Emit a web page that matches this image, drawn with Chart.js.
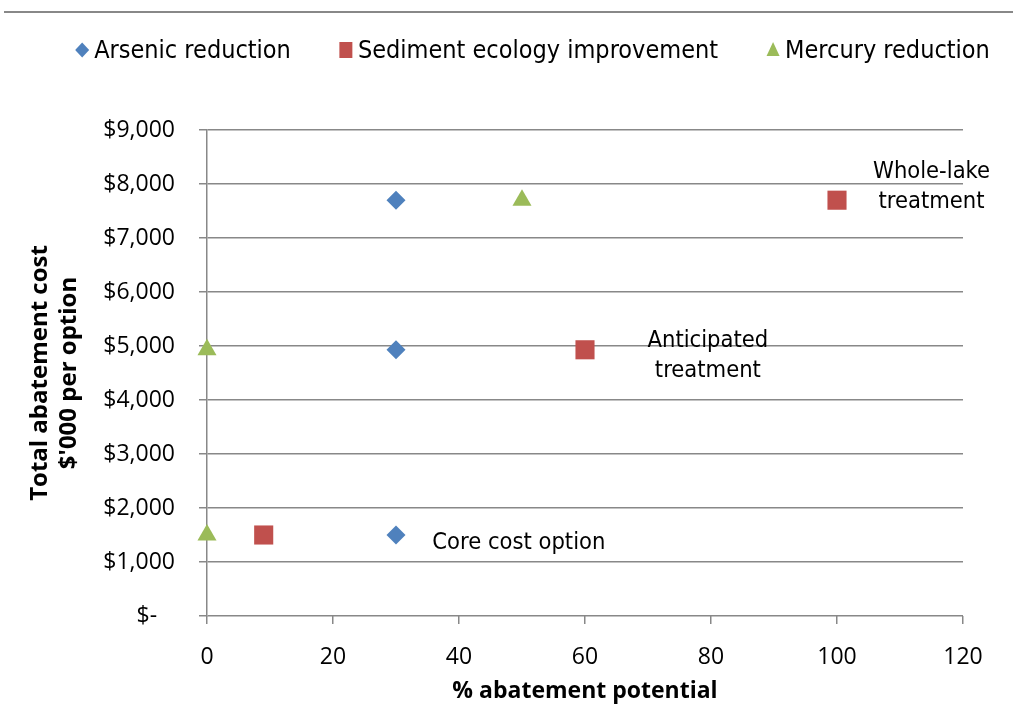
<!DOCTYPE html>
<html>
<head>
<meta charset="utf-8">
<script src="https://cdn.jsdelivr.net/npm/chart.js@4/dist/chart.umd.min.js"></script>
<style>
  html, body { margin: 0; padding: 0; background: #fff; }
  #wrap { position: relative; width: 1015px; height: 706px; }
  #topline { position: absolute; left: 4px; top: 11px; width: 1009px; height: 2px; background: #888; }
</style>
</head>
<body>
<div id="wrap">
  <div id="topline"></div>
  <canvas id="chart" width="1015" height="706"></canvas>
</div>
<script>
// series values (% abatement potential, $'000 cost)
const arsenicX = [30, 30, 30];
const arsenicY = [7700, 4930, 1500];
const sedimentX = [9, 60, 100];
const sedimentY = [1500, 4930, 7700];
const mercuryX = [0, 0, 50];
const mercuryY = [1500, 4930, 7700];

const seriesNames = ['Arsenic reduction', 'Sediment ecology improvement', 'Mercury reduction'];

// point labels, anchored in data units
const noteText = [['Whole-lake', 'treatment'], ['Anticipated', 'treatment'], ['Core cost option']];
const noteX = [115, 79.5, 49.5];
const noteY = [7950, 4820, 1350];

const xTicksMax = 120;
const yTicksMax = 9000;

const labelFont = '"DejaVu Sans Condensed", "DejaVu Sans"';

const toPoints = (xs, ys) => xs.map((x, i) => ({ x: x, y: ys[i] }));

// small marker shapes for the legend
function drawMarker(ctx, style, x, y, color) {
  ctx.fillStyle = color;
  ctx.beginPath();
  if (style === 'rectRot') {
    ctx.moveTo(x, y - 7.5);
    ctx.lineTo(x + 7, y);
    ctx.lineTo(x, y + 7.5);
    ctx.lineTo(x - 7, y);
  } else if (style === 'rect') {
    ctx.rect(x - 6.5, y - 8, 13, 16);
  } else {
    ctx.moveTo(x, y - 8);
    ctx.lineTo(x + 6.5, y + 6);
    ctx.lineTo(x - 6.5, y + 6);
  }
  ctx.closePath();
  ctx.fill();
}

const legendPlugin = {
  id: 'topLegend',
  afterDraw(chart) {
    const ctx = chart.ctx;
    ctx.save();
    ctx.font = '25px ' + labelFont;
    const gap = 48, mark = 14, pad = 5;
    const items = chart.data.datasets.map(ds => ({ ds: ds, w: mark + pad + ctx.measureText(ds.label).width }));
    const total = items.reduce((s, it) => s + it.w, 0) + gap * (items.length - 1);
    let x = (chart.width - total) / 2 + 25;
    const y = 50;
    items.forEach(it => {
      drawMarker(ctx, it.ds.pointStyle, x + mark / 2, y, it.ds.backgroundColor);
      ctx.fillStyle = '#000';
      ctx.textAlign = 'left';
      ctx.textBaseline = 'middle';
      ctx.fillText(it.ds.label, x + mark + pad, y + 1);
      x += it.w + gap;
    });
    ctx.restore();
  }
};

const notesPlugin = {
  id: 'notes',
  afterDatasetsDraw(chart) {
    const ctx = chart.ctx;
    const xs = chart.scales.x, ys = chart.scales.y;
    ctx.save();
    ctx.font = '23.5px ' + labelFont;
    ctx.fillStyle = '#000';
    ctx.textAlign = 'center';
    ctx.textBaseline = 'middle';
    noteText.forEach((lines, i) => {
      const cx = xs.getPixelForValue(noteX[i]);
      const cy = ys.getPixelForValue(noteY[i]);
      const lh = 30;
      const top = cy - (lines.length - 1) * lh / 2;
      lines.forEach((t, j) => ctx.fillText(t, cx, top + j * lh));
    });
    ctx.restore();
  }
};

const gridColor = '#888888';

new Chart(document.getElementById('chart'), {
  type: 'scatter',
  data: {
    datasets: [
      {
        label: seriesNames[0],
        data: toPoints(arsenicX, arsenicY),
        pointStyle: 'rectRot',
        pointRadius: 9.5,
        backgroundColor: '#4F81BD',
        borderColor: '#4F81BD',
        borderWidth: 0,
        clip: false
      },
      {
        label: seriesNames[1],
        data: toPoints(sedimentX, sedimentY),
        pointStyle: 'rect',
        pointRadius: 13.5,
        backgroundColor: '#C0504D',
        borderColor: '#C0504D',
        borderWidth: 0,
        clip: false
      },
      {
        label: seriesNames[2],
        data: toPoints(mercuryX, mercuryY),
        pointStyle: 'triangle',
        pointRadius: 11,
        backgroundColor: '#9BBB59',
        borderColor: '#9BBB59',
        borderWidth: 0,
        clip: false
      }
    ]
  },
  options: {
    responsive: false,
    animation: false,
    events: [],
    layout: { padding: { top: 130, right: 52, bottom: 0, left: 0 } },
    plugins: {
      legend: { display: false },
      tooltip: { enabled: false }
    },
    scales: {
      x: {
        type: 'linear',
        min: 0,
        max: xTicksMax,
        afterFit: (scale) => { scale.height = 90; },
        ticks: {
          stepSize: 20,
          padding: 20,
          color: '#000',
          font: { family: 'Open Sans', size: 23 }
        },
        grid: {
          drawOnChartArea: false,
          drawTicks: true,
          tickLength: 8,
          color: gridColor,
          lineWidth: 1.5
        },
        border: { display: false },
        title: {
          display: true,
          text: '% abatement potential',
          color: '#000',
          font: { family: 'Open Sans', size: 23, weight: 'bold' },
          padding: { top: 0, bottom: 1 }
        }
      },
      y: {
        min: 0,
        max: yTicksMax,
        afterFit: (scale) => { scale.width = 207; },
        ticks: {
          stepSize: 1000,
          padding: 24,
          color: '#000',
          font: { family: 'Open Sans', size: 23 },
          callback: (v) => v === 0 ? '$-   ' : '$' + v.toLocaleString('en-US')
        },
        grid: {
          color: gridColor,
          lineWidth: 1.5,
          tickLength: 8
        },
        border: { display: true, color: gridColor, width: 1.5 },
        title: {
          display: true,
          text: ['Total abatement cost', "$'000 per option"],
          color: '#000',
          font: { family: 'Open Sans', size: 24, weight: 'bold', lineHeight: 1.2 },
          padding: { top: 26, bottom: 0 }
        }
      }
    }
  },
  plugins: [legendPlugin, notesPlugin]
});
</script>
</body>
</html>
